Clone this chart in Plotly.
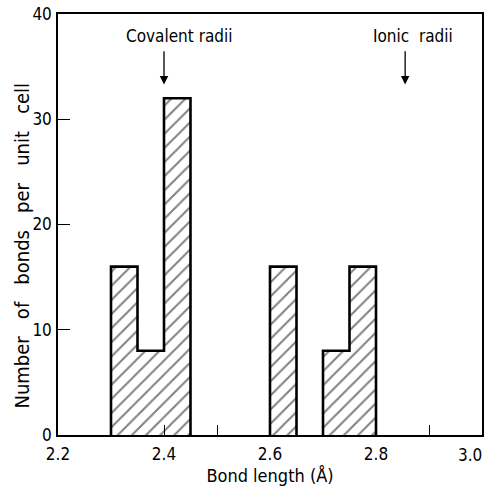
import plotly.graph_objects as go

# Histogram of bond lengths: bin left edges (Å) and counts per unit cell
bin_left = [2.30, 2.35, 2.40, 2.60, 2.70, 2.75]
counts = [16, 8, 32, 16, 8, 16]
bin_width = 0.05

x_ticks = [2.2, 2.4, 2.6, 2.8, 3.0]
x_tick_labels = ["2.2", "2.4", "2.6", "2.8", "3.0"]
y_ticks = [0, 10, 20, 30, 40]

# Reference markers: (label, bond length, label offset in px)
markers = [("Covalent radii", 2.40, 15), ("Ionic  radii", 2.855, 8)]

FONT = "DejaVu Sans Condensed, Liberation Sans Narrow, DejaVu Sans, sans-serif"
Y_TITLE = "Number   of   bonds   per   unit   cell"

centers = [b + bin_width / 2 for b in bin_left]

fig = go.Figure()

# Hatched bars (no individual outlines)
fig.add_trace(go.Bar(
    x=centers, y=counts, width=bin_width,
    marker=dict(
        color="white",
        line=dict(width=0),
        pattern=dict(shape="/", fgcolor="black", bgcolor="white",
                     size=10, solidity=0.2),
    ),
    showlegend=False, hoverinfo="skip",
))

# Stepped outline around each run of contiguous bins
ox, oy = [], []
i = 0
n = len(bin_left)
while i < n:
    j = i
    while j + 1 < n and abs(bin_left[j + 1] - (bin_left[j] + bin_width)) < 1e-9:
        j += 1
    ox.append(bin_left[i]); oy.append(0)
    for k in range(i, j + 1):
        ox += [bin_left[k], bin_left[k] + bin_width]
        oy += [counts[k], counts[k]]
    ox.append(bin_left[j] + bin_width); oy.append(0)
    ox.append(None); oy.append(None)
    i = j + 1

fig.add_trace(go.Scatter(
    x=ox, y=oy, mode="lines",
    line=dict(color="black", width=2.6),
    showlegend=False, hoverinfo="skip",
))

# Labels with downward arrows
for label, xv, dx in markers:
    fig.add_annotation(
        x=xv, y=37.9, text=label, showarrow=False,
        font=dict(family=FONT, size=17, color="black"),
        xanchor="center", yanchor="middle",
        xshift=dx,
    )
    fig.add_annotation(
        x=xv, y=33.3, ax=xv, ay=36.6,
        xref="x", yref="y", axref="x", ayref="y",
        showarrow=True, arrowhead=2, arrowsize=1.3, arrowwidth=1.3,
        arrowcolor="black", text="",
    )

# Vertical axis title
fig.add_annotation(
    x=-36 / 424, xref="paper", y=0.45, yref="paper",
    text=Y_TITLE, textangle=-90,
    showarrow=False, font=dict(family=FONT, size=20, color="black"),
    xanchor="center", yanchor="middle",
)

# The last x tick label sits at the right frame edge; draw it right-aligned
# against its tick so it stays inside the figure.
fig.add_annotation(
    x=x_ticks[-1], xref="x", y=0, yref="paper",
    text=x_tick_labels[-1], showarrow=False,
    font=dict(family=FONT, size=17, color="black"),
    xanchor="right", yanchor="top", xshift=2, yshift=-8,
)

axis_common = dict(
    showline=True, linecolor="black", linewidth=1.5, mirror=True,
    showgrid=False, zeroline=False, automargin=False,
    ticks="inside", tickcolor="black", tickwidth=1.3,
)

fig.update_xaxes(
    range=[2.2, 3.0], tickvals=x_ticks,
    ticktext=x_tick_labels[:-1] + [""],
    ticklen=10, ticklabelstandoff=3,
    tickfont=dict(family=FONT, size=17, color="black"),
    minor=dict(dtick=0.1, tick0=2.2, ticks="inside", ticklen=10,
               tickcolor="black", tickwidth=1.3),
    title=dict(text="Bond length (Å)", standoff=6,
               font=dict(family=FONT, size=18, color="black")),
    **axis_common,
)
fig.update_yaxes(
    range=[0, 40], tickvals=y_ticks, ticklen=12,
    tickfont=dict(family=FONT, size=17, color="black"),
    ticklabelstandoff=1,
    **axis_common,
)

fig.update_layout(
    width=486, height=492,
    margin=dict(l=58, r=4, t=14, b=57),
    paper_bgcolor="white", plot_bgcolor="white",
    bargap=0,
)

fig.write_html("out.html")
